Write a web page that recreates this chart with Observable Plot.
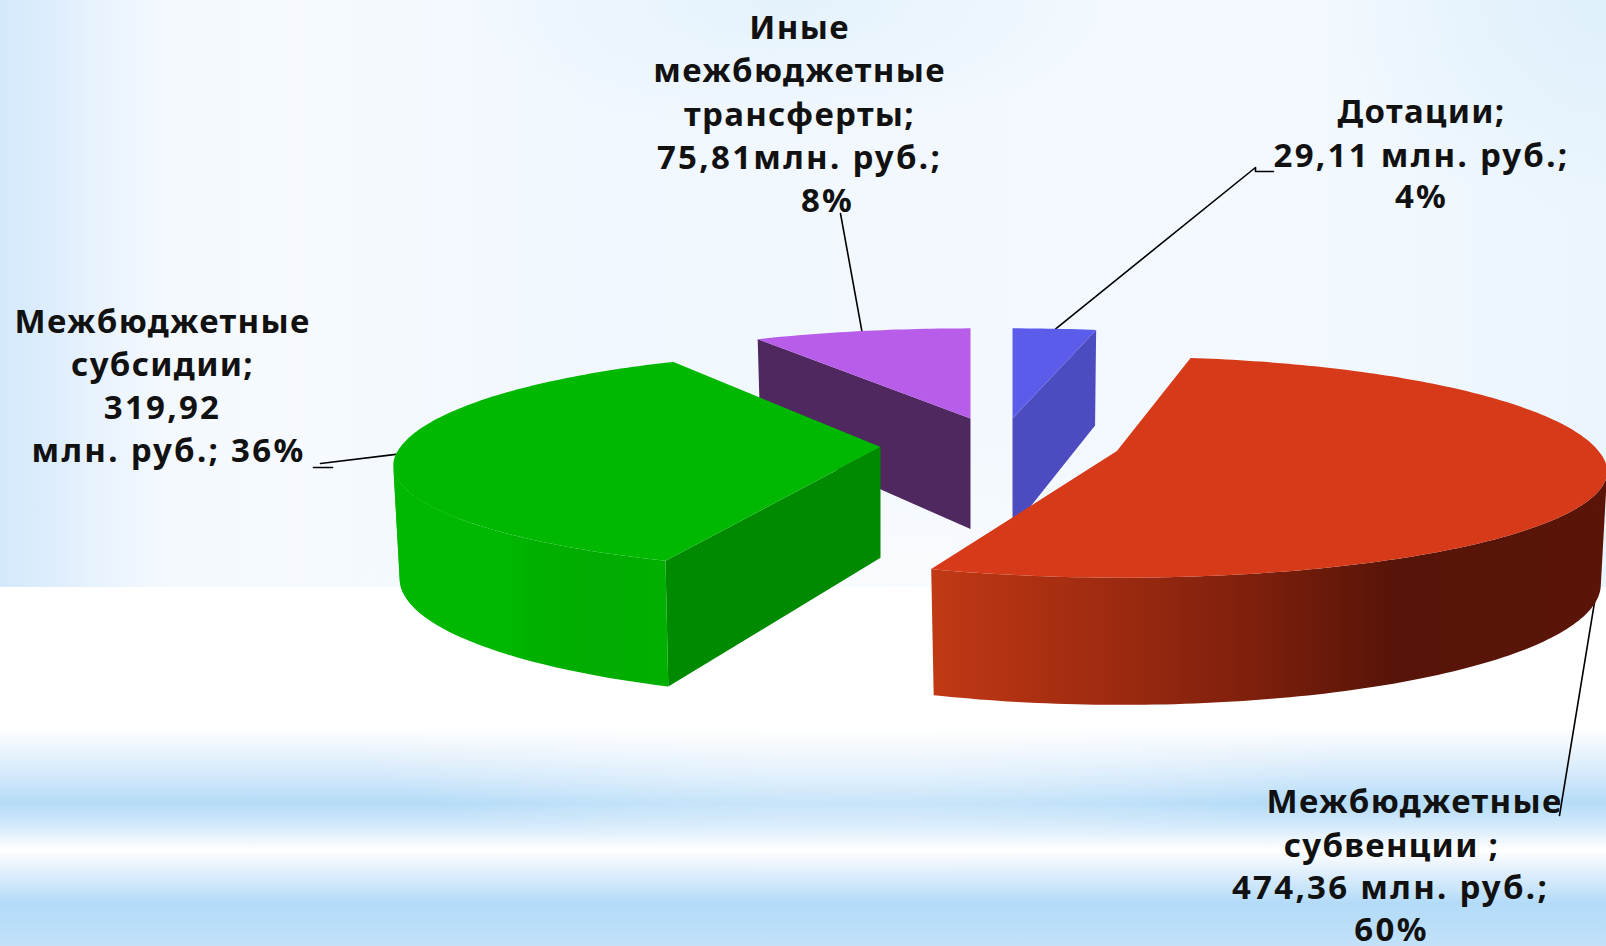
<!DOCTYPE html>
<html lang="ru">
<head>
<meta charset="utf-8">
<script src="https://cdn.jsdelivr.net/npm/d3@7"></script>
<script src="https://cdn.jsdelivr.net/npm/@observablehq/plot@0.6"></script>
<style>
html,body{margin:0;padding:0;width:1606px;height:946px;overflow:hidden}
body{background:
 radial-gradient(ellipse 560px 230px at 850px 650px, rgba(255,255,255,.75), rgba(255,255,255,0)) no-repeat,
 radial-gradient(ellipse 320px 130px at 790px 0px, #e4f2fc, rgba(228,242,252,0)) 0 0/1606px 587px no-repeat,
 radial-gradient(ellipse 280px 220px at 1606px 0px, #dff0fc, rgba(223,240,252,0)) 0 0/1606px 587px no-repeat,
 linear-gradient(to right,#d3e9fc 0,#dfeefc 60px,#ebf4fd 110px,#f4f9fe 170px,#f6fafe 300px,#f0f7fe 600px,#f2f8fe 900px,#f3f9fe 1300px,#ebf5fd 1606px) 0 0/1606px 587px no-repeat,
 linear-gradient(to bottom,#fff 0,#fff 727px,#e9f3fc 752px,#cfe7fb 780px,#b5dcf8 803px,#d3e9fb 825px,#fff 850px,#dcedfc 875px,#b3dbf8 903px,#c2e1f9 946px);}
svg{display:block;background:transparent!important}
</style>
</head>
<body>
<div id="chart"></div>
<script>
// --- Data ---
const categories = ["Дотации", "Межбюджетные субвенции", "Межбюджетные субсидии", "Иные межбюджетные трансферты"];
const valuesMln = [29.11, 474.36, 319.92, 75.81];

const labelDotacii = ["Дотации;", "29,11 млн. руб.;", "4%"];
const labelSubvencii = ["Межбюджетные", "субвенции ;", "474,36 млн. руб.;", "60%"];
const labelSubsidii = ["Межбюджетные", "субсидии;", "319,92", "млн. руб.; 36%"];
const labelInye = ["Иные", "межбюджетные", "трансферты;", "75,81млн. руб.;", "8%"];

// --- Pie layout: perspective projection of an exploded 3-D pie ---
const R = 483, RY = 103.4, PERSP = 0.17, DEPTH = 110.6, BOTTOM_SHRINK = 0.987;
const layout = [
  {apex: [1012, 418], nudge: 0, back: 1.02, scale: 1, top: "#5c5cea", wall: "#4c4cc0"},
  {apex: [1121.4, 452.6], vertex: [1116.4, 450.6], nudge: -2, back: 1.09, scale: 0.99, top: "#d63a18"},
  {apex: [880, 446.6], nudge: 0.6, back: 1.09, scale: 0.994, top: "#00b800", wall: "#008a00"},
  {apex: [970, 418], nudge: 0, back: 1.02, scale: 1, top: "#b85cea", wall: "#4f2860"}
];
const total = d3.sum(valuesMln);
let acc = 0;
const slices = valuesMln.map((v, i) => {
  const a0 = acc; acc += v / total * 360;
  return {name: categories[i], a0: a0 + layout[i].nudge, a1: acc + layout[i].nudge, ...layout[i]};
});
const rad = d => d * Math.PI / 180;
function proj(s, a) {
  const u = Math.sin(rad(a)), v = -Math.cos(rad(a)), k = 1 / (1 - PERSP * v);
  return [s.apex[0] + R * s.scale * u * k, s.apex[1] + RY * (v < 0 ? s.back : 1) * v * k, k];
}
function projB(s, a) {
  const [x, y, k] = proj(s, a);
  return [s.apex[0] + (x - s.apex[0]) * BOTTOM_SHRINK, y + DEPTH * Math.pow(k, k < 1 ? 0.95 : 0.75)];
}
const arc = (a0, a1, step = 1) => d3.range(a0, a1, step).concat([a1]);

let fid = 0;
function face(pts, color) {
  const id = fid++;
  return pts.map(p => ({x: p[0], y: p[1], id, color}));
}
function outerWall(s, color, from = s.a0, to = s.a1) {
  const as = arc(from, to).filter(a => -Math.cos(rad(a)) >= PERSP);
  return face([...as.map(a => proj(s, a)), ...as.slice().reverse().map(a => projB(s, a))], color);
}
function cutWall(s, a) {
  return face([s.apex, proj(s, a), projB(s, a), [s.apex[0], s.apex[1] + DEPTH]], s.wall);
}
function topFace(s) {
  return face([s.vertex || s.apex, ...arc(s.a0, s.a1).map(a => proj(s, a))], s.top);
}
const [blue, red, green, purple] = slices;
const faces = [
  ...cutWall(purple, purple.a0),
  ...topFace(purple),
  ...cutWall(blue, blue.a1),
  ...topFace(blue),
  ...cutWall(green, green.a0),
  ...outerWall(green, "url(#greenWall)"),
  ...outerWall(green, green.top, 232),
  ...topFace(green),
  ...outerWall(red, "url(#redWall)"),
  ...topFace(red)
];

// --- Wall shading ---
const gradients = [
  {id: "redWall", x1: 925, x2: 1606, stops: [[0, "#c23a15"], [0.12, "#b23212"], [0.28, "#9c2a10"], [0.49, "#7c1f0c"], [0.69, "#571408"], [1, "#5a1508"]]},
  {id: "greenWall", x1: 390, x2: 680, stops: [[0, "#00b800"], [0.38, "#00b800"], [0.5, "#00b000"], [0.72, "#00ac00"], [1, "#00b000"]]}
];
const gradientDefs = () => {
  const defs = d3.create("svg:defs");
  for (const g of gradients) {
    const lg = defs.append("linearGradient").attr("id", g.id).attr("gradientUnits", "userSpaceOnUse")
      .attr("x1", g.x1).attr("x2", g.x2).attr("y1", 0).attr("y2", 0);
    for (const [o, c] of g.stops) lg.append("stop").attr("offset", o).attr("stop-color", c);
  }
  return defs.node();
};

// --- Leader lines: free end beside the label, other end on the slice ---
const leaders = [
  [[840, 213], proj(purple, (purple.a0 + purple.a1) / 2)],
  [[1273, 171], [1255, 171], [1255, 167], proj(blue, 6)],
  [[332, 467], [313, 467]],
  [[320, 463], proj(green, 266)],
  [[1559, 815], projB(red, 95)]
].flatMap((pts, i) => pts.map(p => ({x: p[0], y: p[1], i})));

// --- Labels ---
const lineRows = (lines, x, ys) => lines.map((text, i) => ({text, x: Array.isArray(x) ? x[i] : x, y: ys[i]}));
const labels = [
  ...lineRows(labelInye, [799, 799, 799, 799, 827], [28, 71, 115, 158, 201]),
  ...lineRows(labelDotacii, 1421, [112, 156, 197]),
  ...lineRows(labelSubsidii, [162, 162, 162, 168], [322, 365, 408, 451]),
  ...lineRows(labelSubvencii, [1414, 1391, 1390, 1391], [802, 846, 888, 930])
];

const chart = Plot.plot({
  width: 1606, height: 946, margin: 0,
  x: {domain: [0, 1606], axis: null},
  y: {domain: [946, 0], axis: null},
  color: {type: "identity"},
  style: {background: "transparent"},
  marks: [
    gradientDefs,
    Plot.line(leaders, {x: "x", y: "y", z: "i", stroke: "#000", strokeWidth: 1.6}),
    Plot.line(faces, {x: "x", y: "y", z: "id", fill: "color", stroke: "none", curve: "linear"}),
    Plot.text(labels, {x: "x", y: "y", text: "text", fontSize: 33, fontWeight: 700, fontFamily: "'Noto Sans', sans-serif", fill: "#111", textAnchor: "middle", lineAnchor: "middle"})
  ]
});
d3.select(chart).selectAll("text").each(function () {
  this.style.letterSpacing = /\d/.test(this.textContent) ? "2.3px" : "1.3px";
});
document.getElementById("chart").appendChild(chart);
</script>
</body>
</html>
